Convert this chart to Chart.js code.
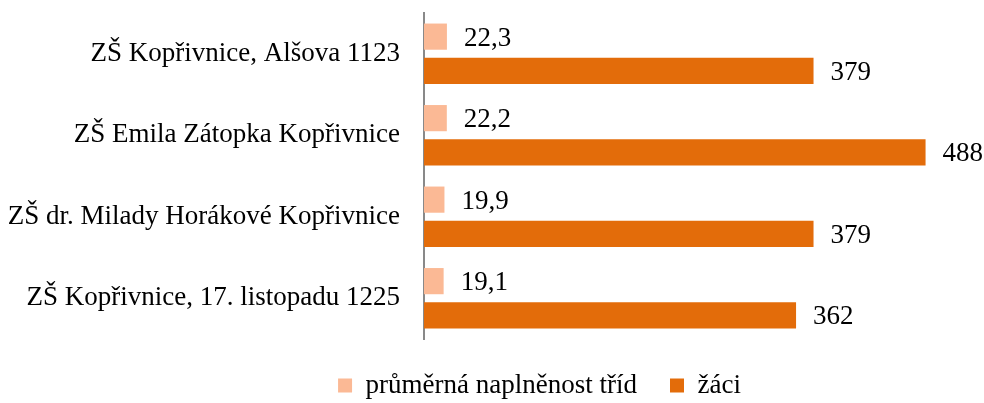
<!DOCTYPE html>
<html>
<head>
<meta charset="utf-8">
<script src="https://cdn.jsdelivr.net/npm/chart.js@4"></script>
<style>
	html, body { margin: 0; padding: 0; background: #fff; }
	#wrap { width: 984px; height: 403px; }
</style>
</head>
<body>
<div id="wrap"><canvas id="chart"></canvas></div>
<script>
	"use strict";

	var schools = [
		'ZŠ Kopřivnice, Alšova 1123',
		'ZŠ Emila Zátopka Kopřivnice',
		'ZŠ dr. Milady Horákové Kopřivnice',
		'ZŠ Kopřivnice, 17. listopadu 1225'
	];
	var avgClassSize = [22.3, 22.2, 19.9, 19.1];
	var pupils = [379, 488, 379, 362];
	var seriesNames = ['průměrná naplněnost tříd', 'žáci'];

	var font_family = '"Liberation Serif", "Times New Roman", serif';
	var font_size = 27;

	// values drawn next to the end of each bar
	const valueLabels = {
		id: 'value_labels',
		afterDatasetsDraw: (chart) => {
			const ctx = chart.ctx;
			ctx.save();
			ctx.font = font_size + 'px ' + font_family;
			ctx.fillStyle = '#000';
			ctx.textBaseline = 'middle';
			ctx.textAlign = 'left';
			chart.data.datasets.forEach(function(ds, i){
				chart.getDatasetMeta(i).data.forEach(function(bar, j){
					var txt = String(ds.data[j]).replace('.', ',');
					ctx.fillText(txt, bar.x + 17, bar.y + 2);
				});
			});
			ctx.restore();
		}
	};

	// legend sits a bit right of the canvas centre in the original
	const legendShift = {
		id: 'legend_shift',
		afterLayout: (chart) => {
			if ( chart.legend ) {
				chart.legend.left += 50;
				chart.legend.right += 50;
			}
		}
	};

	const data = {
		labels: schools,
		datasets: [{
			label: seriesNames[0],
			data: avgClassSize,
			backgroundColor: '#FBB995',
			barPercentage: 0.765,
			categoryPercentage: 0.84
		}, {
			label: seriesNames[1],
			data: pupils,
			backgroundColor: '#E36C0A',
			barPercentage: 0.765,
			categoryPercentage: 0.84
		}]
	};

	const config = {
		type: 'bar',
		data: data,
		plugins: [valueLabels, legendShift],
		options: {
			indexAxis: 'y',
			responsive: true,
			maintainAspectRatio: false,
			animation: false,
			layout: { padding: { top: 13, right: 5, left: 0, bottom: -6 } },
			scales: {
				x: {
					display: false,
					min: 0,
					max: 540
				},
				y: {
					grid: { display: false, drawTicks: false },
					border: { display: true, color: '#898989', width: 2 },
					ticks: {
						color: '#000',
						padding: 24,
						font: { family: font_family, size: font_size }
					},
					// fixed label column, no extra room above and below
					afterFit: function(scale){
						scale.width = 424;
						scale.paddingTop = 0;
						scale.paddingBottom = 0;
					}
				}
			},
			plugins: {
				legend: {
					position: 'bottom',
					labels: {
						color: '#000',
						boxWidth: 14,
						boxHeight: 14,
						padding: 33,
						font: { family: font_family, size: font_size }
					}
				},
				tooltip: { enabled: false }
			}
		}
	};

	var ctx = document.getElementById('chart').getContext('2d');
	new Chart(ctx, config);
</script>
</body>
</html>
